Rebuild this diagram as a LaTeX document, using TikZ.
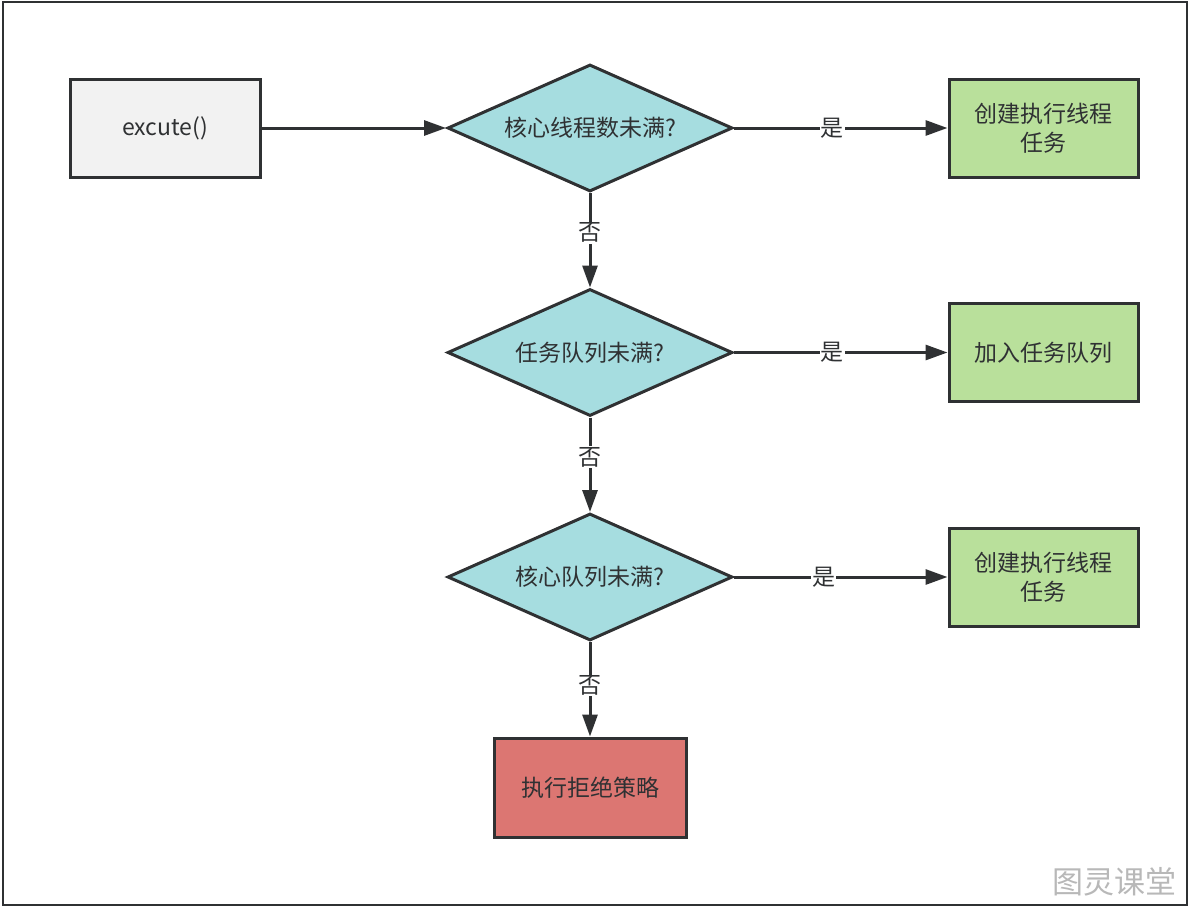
\documentclass[tikz,border=0pt]{standalone}
\usepackage{fontspec}
\setmainfont{Noto Sans CJK SC}
\newfontfamily\cjk{Noto Sans CJK SC}
\usetikzlibrary{shapes.geometric,arrows.meta}
\definecolor{strokec}{HTML}{2F3133}
\definecolor{diafill}{HTML}{A6DDE0}
\definecolor{greenfill}{HTML}{B9E09B}
\definecolor{redfill}{HTML}{DC7672}
\definecolor{greyfill}{HTML}{F2F2F2}
\definecolor{wmark}{HTML}{B8B8B8}
\begin{document}
\begin{tikzpicture}[x=1pt,y=-1pt,
  every node/.style={font=\cjk\fontsize{23}{29}\selectfont, text=strokec},
  boxnode/.style={draw=strokec, line width=3pt, rectangle, minimum width=189pt, minimum height=98pt, inner sep=0pt, align=center},
  dianode/.style={draw=strokec, line width=3pt, diamond, fill=diafill, minimum width=285pt, minimum height=127pt, aspect=2.24, inner sep=0pt},
  conn/.style={draw=strokec, line width=3pt, -{Triangle[length=22pt,width=15pt]}},
  lab/.style={fill=white, inner sep=1pt}
]
\useasboundingbox (0,0) rectangle (1190,907);
\draw[strokec, line width=2pt] (3,2) rectangle (1187,905);

\node[boxnode, fill=greyfill, minimum width=190pt] (exec) at (165,128) {excute()};
\node[dianode] (d1) at (590,128) {核心线程数未满?};
\node[dianode] (d2) at (590,352.5) {任务队列未满?};
\node[dianode] (d3) at (590,577) {核心队列未满?};
\node[boxnode, fill=greenfill] (g1) at (1043.5,128) {创建执行线程\\任务};
\node[boxnode, fill=greenfill] (g2) at (1043.5,352.5) {加入任务队列};
\node[boxnode, fill=greenfill] (g3) at (1043.5,577) {创建执行线程\\任务};
\node[boxnode, fill=redfill, minimum width=192pt, minimum height=99pt] (rej) at (590,787.5) {执行拒绝策略};

\draw[conn] (exec.east) -- (d1.west);
\draw[conn] (d1.east) -- node[lab, pos=0.46] {是} (g1.west);
\draw[conn] (d2.east) -- node[lab, pos=0.46] {是} (g2.west);
\draw[conn] (d3.east) -- node[lab, pos=0.42] {是} (g3.west);
\draw[conn] (d1.south) -- node[lab, pos=0.42] {否} (d2.north);
\draw[conn] (d2.south) -- node[lab, pos=0.42] {否} (d3.north);
\draw[conn] (d3.south) -- node[lab, pos=0.46] {否} (rej.north);

\node[font=\cjk\fontsize{31}{31}\selectfont, text=wmark, inner sep=0pt] (wm) at (1114,882) {图灵课堂};
\end{tikzpicture}
\end{document}
